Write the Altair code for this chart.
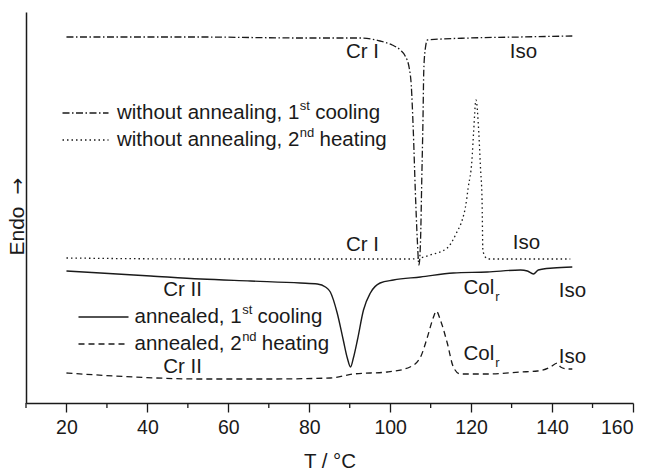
import altair as alt
import pandas as pd

# ---- data (T in °C, heat flow in arbitrary units) ----
T_noanneal_cool = [20.0, 53.2, 77.8, 92.6, 97.5, 100.5, 102.5, 103.7, 104.7, 105.2, 105.7, 106.2,
                   106.7, 107.1, 107.5, 107.8, 108.1, 108.3, 108.7, 109.2, 119.8, 132.2, 145.0]
S_noanneal_cool = [366, 366, 365, 365, 362, 358, 353, 347, 335, 318, 273, 213,
                   163, 138, 163, 223, 283, 333, 355, 363, 365, 366, 367]

T_noanneal_heat = [20.0, 53.2, 77.8, 97.5, 104.9, 107.4, 109.9, 114.1, 116.5, 117.8, 118.6, 119.3,
                   120.2, 120.6, 121.2, 121.9, 122.3, 122.7, 122.9, 123.5, 124.3, 127.2, 144.5]
S_noanneal_heat = [145, 144, 144, 144, 144, 145, 148, 155, 171, 183, 196, 216,
                   243, 270, 303, 270, 236, 203, 153, 146, 144, 144, 144]

T_anneal_cool = [20.0, 28.4, 40.8, 53.2, 65.5, 77.8, 82.0, 84.0, 85.2, 86.9, 88.4, 89.4, 90.2, 90.9,
                 91.9, 93.4, 95.1, 97.5, 100.8, 107.5, 115.6, 124.0, 132.2, 133.9, 135.4, 136.6, 140.3, 145.0]
S_anneal_cool = [132, 130, 127, 124, 122, 120, 119, 116, 111, 90, 63, 45, 36, 45,
                 63, 93, 110, 120, 123, 126, 130, 131, 133, 132, 129, 133, 135, 136]

T_anneal_heat = [20.0, 36.5, 53.2, 69.7, 85.2, 90.9, 99.3, 104.9, 107.5, 109.2, 110.7, 111.4,
                 112.4, 114.1, 115.6, 117.3, 124.0, 132.2, 136.4, 139.6, 141.3, 142.1, 143.8, 145.0]
S_anneal_heat = [30, 26, 24, 24, 25, 29, 31, 36, 46, 66, 86, 92,
                 83, 60, 36, 29, 29, 31, 32, 36, 40, 36, 34, 34]

x_major_ticks = [20, 40, 60, 80, 100, 120, 140, 160]
x_minor_ticks = [10, 30, 50, 70, 90, 110, 130, 150]

x_title = "T / °C"
y_title_word = "Endo"
y_title_arrow = "→"

legend_texts = [("without annealing, 1", "st", "cooling"),
                ("without annealing, 2", "nd", "heating"),
                ("annealed, 1", "st", "cooling"),
                ("annealed, 2", "nd", "heating")]

phase_labels = ["Cr I", "Iso", "Cr I", "Iso", "Cr II", "Iso", "Cr II", "Iso"]
col_labels = [("Col", "r"), ("Col", "r")]

# ---- styling / layout ----
FONT = "Liberation Sans"
INK = "#1a1a1a"
FS = 20.5
SFS = 13
W, H = 607, 391
XD = [10, 160]
YD = [0, 391]

# Arial advance widths (per 1000 em) for layout of super/subscripts
AW = {' ': 278, ',': 278, '1': 556, '2': 556, 'a': 556, 'c': 500, 'd': 556, 'e': 556,
      'g': 556, 'h': 556, 'i': 222, 'l': 222, 'n': 556, 'o': 556, 's': 500, 't': 278,
      'u': 556, 'w': 722, 'C': 722, 'r': 333, 'I': 278}


def tw(s, fs):
    return sum(AW.get(c, 556) for c in s) * fs / 1000.0


xs = alt.Scale(domain=XD, nice=False, zero=False)
ys = alt.Scale(domain=YD, nice=False, zero=False)


def curve(T, S, dash, sw=1.3):
    df = pd.DataFrame({"T": T, "S": S})
    mark = alt.Chart(df).mark_line(color=INK, strokeWidth=sw, interpolate="monotone",
                                   **({"strokeDash": dash} if dash else {}))
    return mark.encode(
        x=alt.X("T:Q", scale=xs,
                axis=alt.Axis(values=x_major_ticks, title=x_title, format="d",
                              tickSize=9, labelPadding=6, titleY=58, titleBaseline="middle")),
        y=alt.Y("S:Q", scale=ys, axis=alt.Axis(labels=False, ticks=False, title=None)),
    )


def text_at(s, x, y, fs=FS, align="left", font=FONT, angle=0):
    kw = {"angle": angle} if angle else {}
    return alt.Chart(pd.DataFrame({"t": [s]})).mark_text(
        font=font, fontSize=fs, color=INK, align=align, baseline="middle", **kw
    ).encode(x=alt.value(x), y=alt.value(y), text="t:N")


def sample(x1, x2, y, dash, sw=1.3):
    return alt.Chart(pd.DataFrame({"a": [0]})).mark_rule(
        color=INK, strokeWidth=sw, **({"strokeDash": dash} if dash else {})
    ).encode(x=alt.value(x1), x2=alt.value(x2), y=alt.value(y))


DASHDOT = [7, 2.5, 1.5, 2.5]
DOT = [1.5, 3]
DASH = [6, 4]

layers = [
    curve(T_noanneal_cool, S_noanneal_cool, DASHDOT),
    curve(T_noanneal_heat, S_noanneal_heat, DOT),
    curve(T_anneal_cool, S_anneal_cool, None, 1.4),
    curve(T_anneal_heat, S_anneal_heat, DASH),
]

# minor ticks on the x axis
layers.append(
    alt.Chart(pd.DataFrame({"m": x_minor_ticks})).mark_rule(color=INK, strokeWidth=1.3).encode(
        x=alt.X("m:Q", scale=xs), y=alt.value(H), y2=alt.value(H + 5))
)

# y axis title (word + larger arrow)
layers.append(text_at(y_title_word, -8, 219, fs=21, align="center", angle=270))
layers.append(text_at(y_title_arrow, -8, 174, fs=20, align="center",
                      font="DejaVu Sans", angle=270))

# legend entries
legend_rows = [(36.5, 82.5, 101.0, 91.0, DASHDOT),
               (36.5, 82.5, 128.0, 91.0, DOT),
               (52.5, 102.5, 305.0, 108.5, None),
               (52.5, 102.5, 332.0, 108.5, DASH)]
for (main, sup, tail), (lx1, lx2, ly, tx, dash) in zip(legend_texts, legend_rows):
    layers.append(sample(lx1, lx2, ly, dash))
    layers.append(text_at(main, tx, ly))
    sx = tx + tw(main, FS)
    layers.append(text_at(sup, sx + 0.5, ly - 7, SFS))
    layers.append(text_at(tail, sx + tw(sup, SFS) + tw(" ", FS), ly))

# phase labels (centre positions)
phase_pos = [(336.5, 40), (497.5, 40), (336.5, 233), (500.5, 231),
             (156.5, 278), (546.5, 279), (156.5, 355), (546.5, 345)]
for lab, (px, py) in zip(phase_labels, phase_pos):
    layers.append(text_at(lab, px, py, align="center"))

col_pos = [(437.5, 276), (437.5, 342)]
for (main, sub), (px, py) in zip(col_labels, col_pos):
    layers.append(text_at(main, px, py))
    layers.append(text_at(sub, px + tw(main, FS) + 1, py + 9, SFS))

chart = alt.layer(*layers).properties(
    width=W, height=H,
    autosize=alt.AutoSizeParams(type="none"),
    padding={"left": 26, "top": 12, "right": 18, "bottom": 68},
    background="white",
).configure_view(stroke=None).configure_axis(
    domainColor=INK, domainWidth=1.5, tickColor=INK, tickWidth=1.3,
    labelFont=FONT, labelFontSize=19.5, labelColor=INK,
    titleFont=FONT, titleFontSize=20.5, titleColor=INK, titleFontWeight="normal",
    grid=False,
)

chart.save("out.html", embed_options={"renderer": "svg", "actions": False})
